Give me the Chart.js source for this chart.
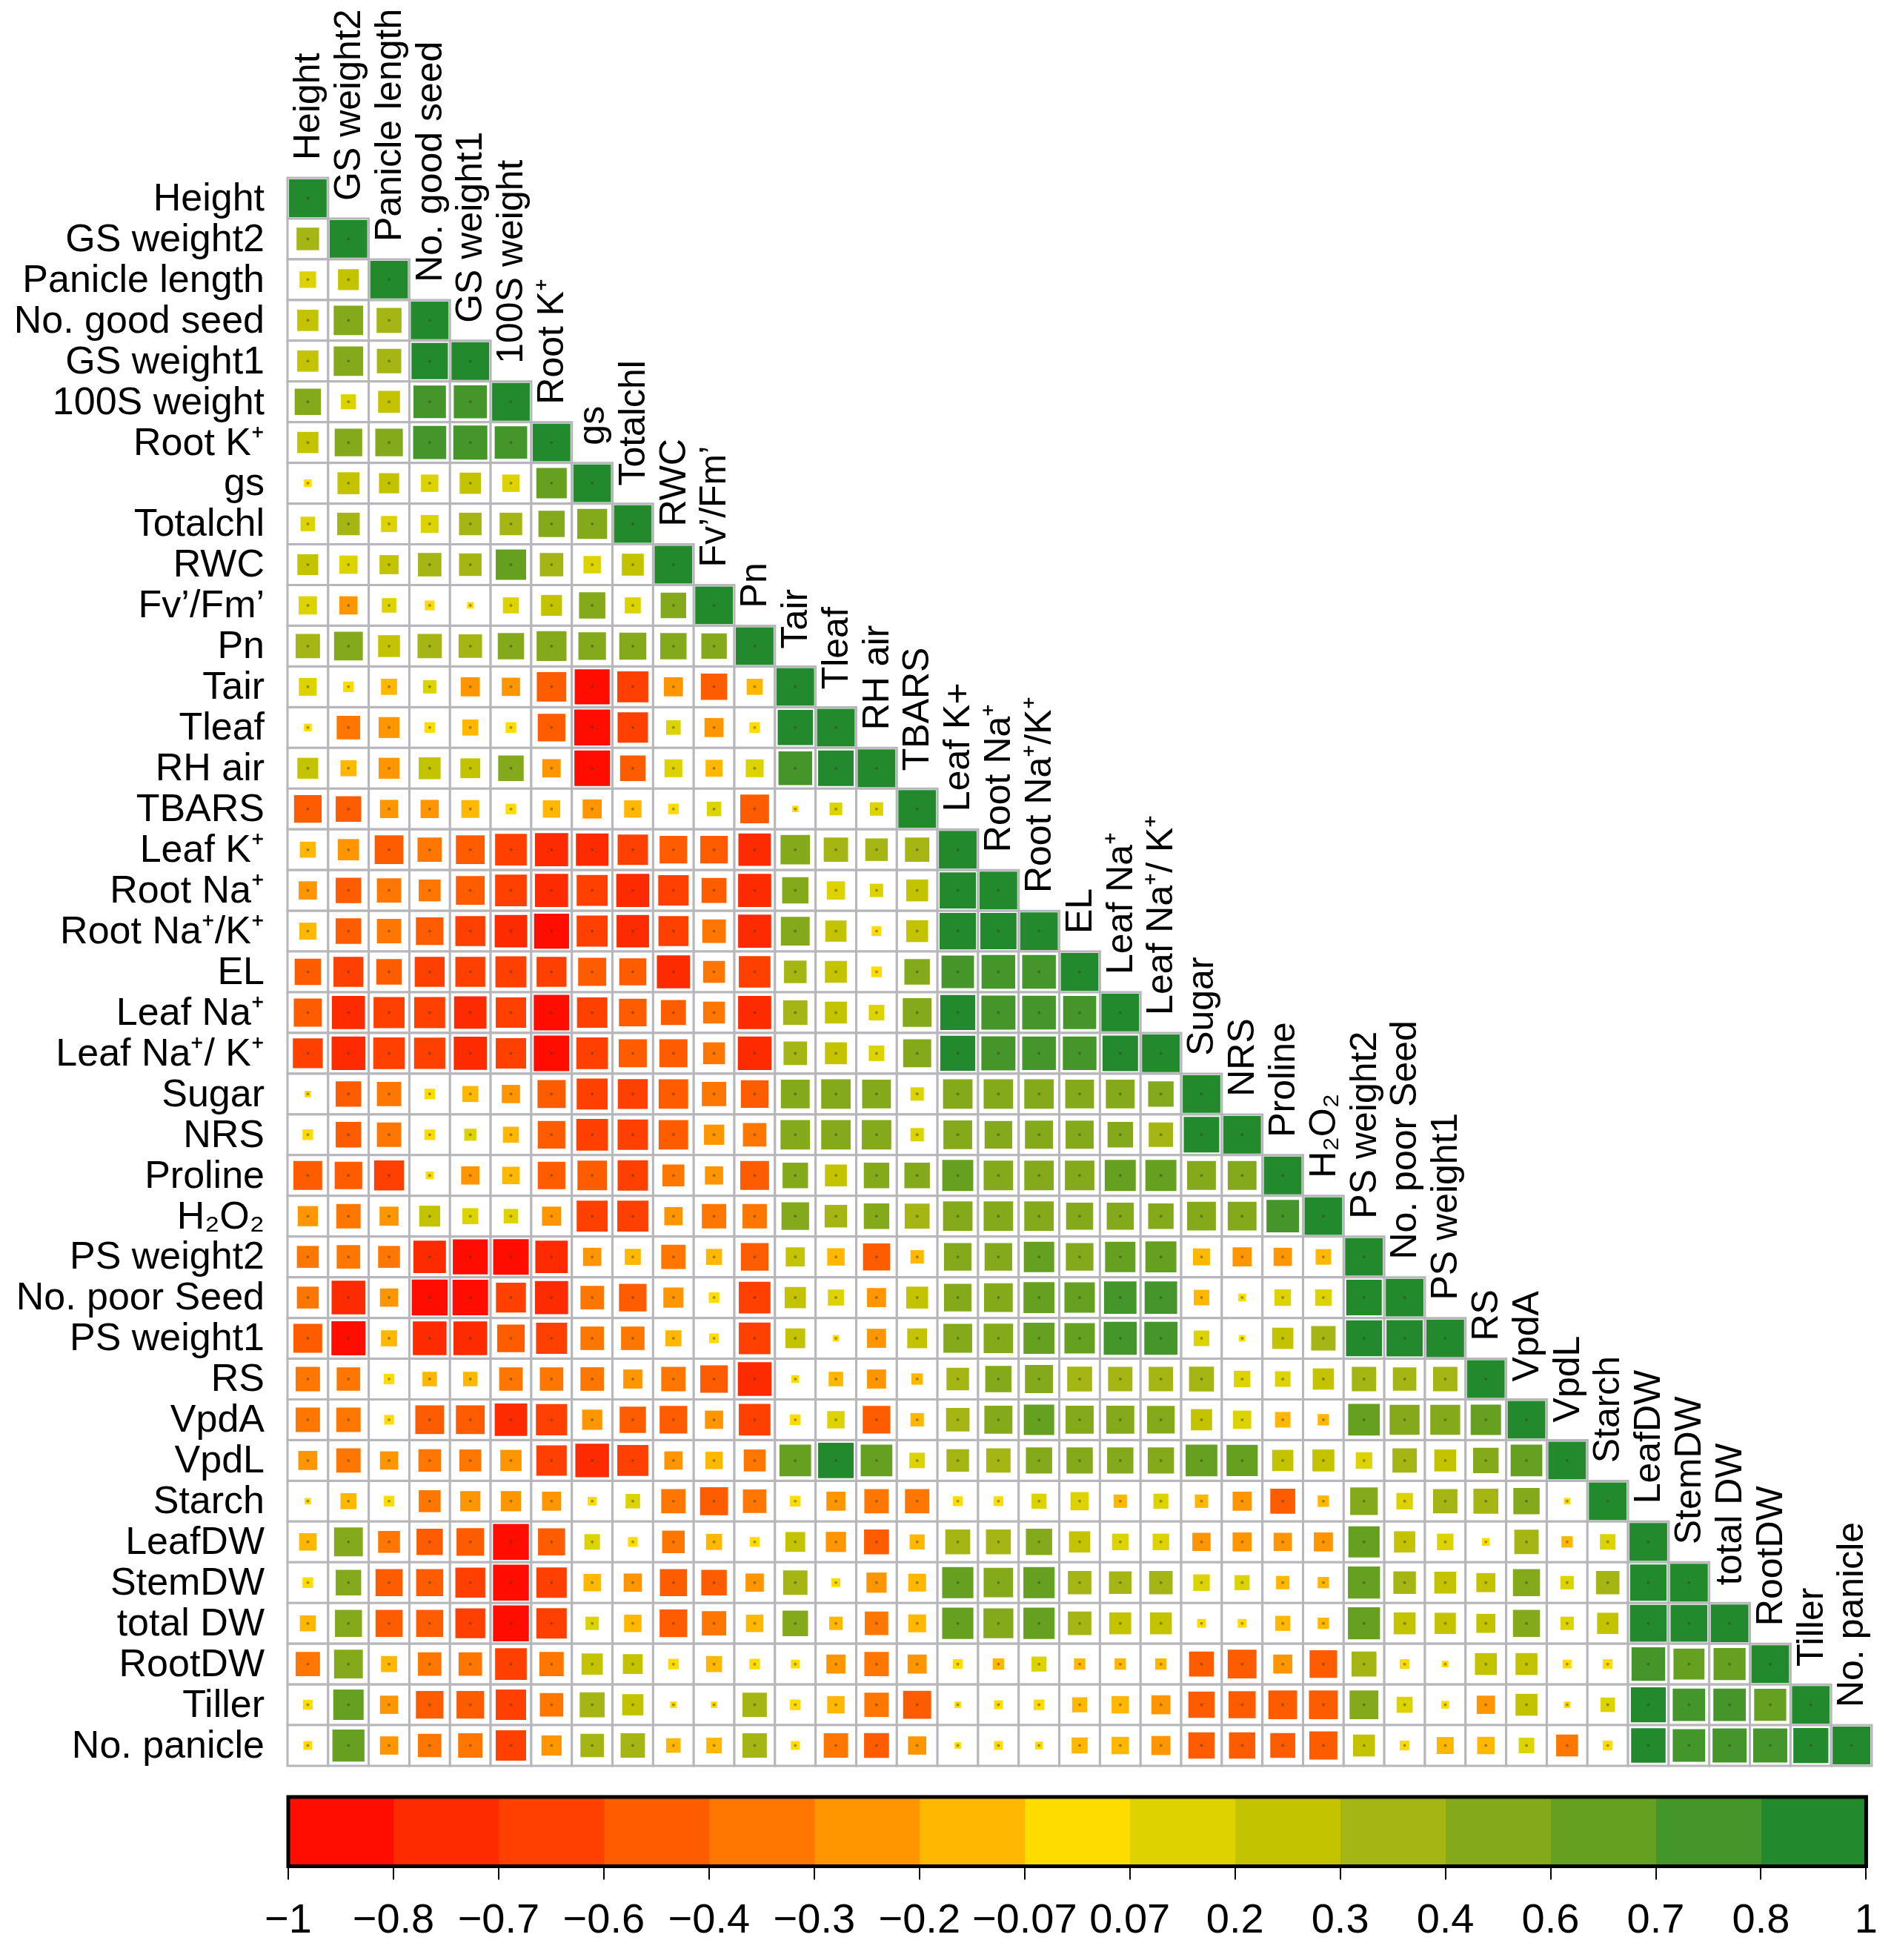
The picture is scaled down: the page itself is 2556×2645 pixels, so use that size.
<!DOCTYPE html>
<html>
<head>
<meta charset="utf-8">
<title>Correlation matrix</title>
<script src="https://cdn.jsdelivr.net/npm/chart.js@4.4.1/dist/chart.umd.min.js"></script>
<style>
  html, body { margin: 0; padding: 0; background: #fff; }
  #matrixBox { position: absolute; left: 0; top: 0; width: 2556px; height: 2400px; }
  #legendBox { position: absolute; left: 0; top: 2400px; width: 2556px; height: 245px; }
</style>
</head>
<body>
<div id="matrixBox"><canvas id="matrix"></canvas></div>
<div id="legendBox"><canvas id="legend"></canvas></div>
<script>
// variable names, as printed left of the rows
const rowNames = [
  'Height', 'GS weight2', 'Panicle length', 'No. good seed', 'GS weight1', '100S weight',
  'Root K\u207A', 'gs', 'Totalchl', 'RWC', 'Fv\u2019/Fm\u2019', 'Pn', 'Tair', 'Tleaf', 'RH air',
  'TBARS', 'Leaf K\u207A', 'Root Na\u207A', 'Root Na\u207A/K\u207A', 'EL', 'Leaf Na\u207A',
  'Leaf Na\u207A/ K\u207A', 'Sugar', 'NRS', 'Proline', 'H\u2082O\u2082', 'PS weight2',
  'No. poor Seed', 'PS weight1', 'RS', 'VpdA', 'VpdL', 'Starch', 'LeafDW', 'StemDW',
  'total DW', 'RootDW', 'Tiller', 'No. panicle'
];

// same variables, as printed above the diagonal
const colNames = [
  'Height', 'GS weight2', 'Panicle length', 'No. good seed', 'GS weight1', '100S weight',
  'Root K\u207A', 'gs', 'Totalchl', 'RWC', 'Fv\u2019/Fm\u2019', 'Pn', 'Tair', 'Tleaf', 'RH air',
  'TBARS', 'Leaf K+', 'Root Na\u207A', 'Root Na\u207A/K\u207A', 'EL', 'Leaf Na\u207A',
  'Leaf Na\u207A/ K\u207A', 'Sugar', 'NRS', 'Proline', 'H\u2082O\u2082', 'PS weight2',
  'No. poor Seed', 'PS weight1', 'RS', 'VpdA', 'VpdL', 'Starch', 'LeafDW', 'StemDW',
  'total DW', 'RootDW', 'Tiller', 'No. panicle'
];

// lower triangle of the correlation matrix: row i holds r(i, 0..i-1), diagonal is 1
const corrLower = [
  [],
  [0.32],
  [0.16, 0.27],
  [0.28, 0.58, 0.4],
  [0.28, 0.58, 0.38, 0.93],
  [0.45, 0.13, 0.3, 0.72, 0.75],
  [0.28, 0.5, 0.5, 0.75, 0.8, 0.72],
  [0.03, 0.3, 0.25, 0.18, 0.28, 0.18, 0.62],
  [0.12, 0.32, 0.15, 0.19, 0.32, 0.32, 0.45, 0.6],
  [0.27, 0.2, 0.22, 0.35, 0.32, 0.62, 0.35, 0.18, 0.3],
  [0.2, -0.2, 0.12, 0.05, 0.02, 0.15, 0.27, 0.45, 0.15, 0.42],
  [0.38, 0.55, 0.3, 0.38, 0.35, 0.45, 0.6, 0.5, 0.48, 0.45, 0.42],
  [0.19, 0.06, -0.15, 0.1, -0.22, -0.2, -0.58, -0.85, -0.65, -0.22, -0.45, -0.15],
  [0.03, -0.35, -0.27, 0.06, -0.15, 0.06, -0.5, -0.9, -0.62, 0.12, -0.22, 0.06, 0.86],
  [0.27, -0.15, -0.27, 0.3, 0.24, 0.42, -0.2, -0.88, -0.42, 0.19, -0.17, 0.19, 0.78, 0.88],
  [-0.5, -0.42, -0.2, -0.2, -0.19, 0.06, -0.18, -0.22, -0.18, 0.06, 0.12, -0.55, 0.02, 0.09, 0.1],
  [-0.15, -0.28, -0.55, -0.38, -0.55, -0.68, -0.75, -0.72, -0.62, -0.5, -0.5, -0.72, 0.58, 0.38, 0.32, 0.38],
  [-0.2, -0.42, -0.38, -0.3, -0.55, -0.68, -0.75, -0.65, -0.75, -0.62, -0.4, -0.75, 0.45, 0.2, 0.1, 0.3, 0.92],
  [-0.17, -0.42, -0.38, -0.5, -0.6, -0.72, -0.85, -0.65, -0.72, -0.6, -0.35, -0.75, 0.55, 0.28, 0.05, 0.3, 0.93, 0.92],
  [-0.45, -0.6, -0.42, -0.6, -0.6, -0.65, -0.6, -0.52, -0.48, -0.75, -0.3, -0.68, 0.32, 0.3, 0.06, 0.42, 0.72, 0.78, 0.78],
  [-0.52, -0.75, -0.65, -0.65, -0.72, -0.62, -0.88, -0.62, -0.5, -0.4, -0.3, -0.75, 0.38, 0.3, 0.14, 0.55, 0.85, 0.8, 0.78, 0.75],
  [-0.6, -0.78, -0.68, -0.66, -0.75, -0.62, -0.88, -0.68, -0.52, -0.52, -0.3, -0.78, 0.35, 0.3, 0.14, 0.52, 0.85, 0.8, 0.78, 0.78, 0.88],
  [0.02, -0.42, -0.38, 0.06, -0.15, -0.2, -0.52, -0.65, -0.6, -0.58, -0.38, -0.5, 0.55, 0.58, 0.55, 0.1, 0.58, 0.58, 0.58, 0.55, 0.55, 0.42],
  [0.06, -0.42, -0.38, 0.06, 0.08, -0.15, -0.5, -0.68, -0.62, -0.58, -0.25, -0.35, 0.58, 0.58, 0.58, 0.1, 0.55, 0.5, 0.52, 0.52, 0.42, 0.38, 0.88],
  [-0.55, -0.5, -0.6, 0.03, -0.2, -0.18, -0.5, -0.58, -0.62, -0.3, -0.2, -0.55, 0.42, 0.3, 0.42, 0.42, 0.65, 0.58, 0.58, 0.58, 0.65, 0.65, 0.55, 0.55],
  [-0.25, -0.38, -0.22, 0.27, 0.15, 0.12, -0.22, -0.65, -0.65, -0.2, -0.38, -0.38, 0.5, 0.32, 0.42, 0.4, 0.58, 0.58, 0.58, 0.48, 0.48, 0.42, 0.55, 0.55, 0.72],
  [-0.3, -0.35, -0.3, -0.72, -0.85, -0.88, -0.72, -0.2, -0.15, -0.38, -0.15, -0.5, 0.22,
   -0.18, -0.48, -0.1, 0.5, 0.5, 0.62, 0.5, 0.62, 0.65, -0.17, -0.22, -0.2, -0.14],
  [-0.3, -0.78, -0.2, -0.9, -0.88, -0.6, -0.75, -0.35, -0.5, -0.25, 0.06, -0.68, 0.28,
   0.15, -0.22, 0.3, 0.5, 0.55, 0.65, 0.62, 0.72, 0.72, -0.14, 0.03, 0.16, 0.16,
   0.88],
  [-0.55, -0.8, -0.15, -0.78, -0.78, -0.5, -0.65, -0.35, -0.35, -0.15, 0.05, -0.68, 0.24,
   0.02, -0.22, 0.24, 0.55, 0.58, 0.65, 0.62, 0.75, 0.75, 0.14, 0.02, 0.28, 0.38,
   0.9, 0.92],
  [-0.38, -0.35, 0.06, -0.12, -0.12, -0.35, -0.35, -0.35, -0.22, -0.38, -0.5, -0.78, 0.03,
   -0.12, -0.22, -0.07, 0.32, 0.45, 0.52, 0.4, 0.38, 0.38, 0.4, 0.16, 0.14, 0.28,
   0.38, 0.35, 0.38],
  [-0.38, -0.38, 0.05, -0.55, -0.55, -0.72, -0.66, -0.25, -0.45, -0.5, -0.2, -0.68, 0.06,
   0.18, -0.5, -0.1, 0.35, 0.52, 0.62, 0.52, 0.52, 0.5, 0.28, 0.2, -0.14, -0.07,
   0.68, 0.6, 0.6, 0.62],
  [-0.22, -0.38, -0.2, -0.32, -0.3, -0.28, -0.62, -0.78, -0.65, -0.2, -0.18, -0.3, 0.68,
   0.88, 0.68, 0.14, 0.32, 0.38, 0.45, 0.45, 0.45, 0.45, 0.68, 0.66, 0.28, 0.3,
   0.16, 0.38, 0.3, 0.42, 0.68],
  [0.02, -0.15, 0.06, -0.3, -0.25, -0.25, -0.22, 0.04, 0.12, -0.38, -0.52, -0.35, 0.06,
   -0.22, -0.38, -0.38, -0.05, -0.05, 0.13, 0.2, -0.1, 0.13, -0.1, -0.22, -0.4, -0.07,
   0.5, 0.16, 0.38, 0.4, 0.45, 0.02],
  [-0.18, 0.55, -0.3, -0.45, -0.5, -0.9, -0.48, 0.14, 0.05, -0.32, -0.15, 0.05, 0.24,
   -0.25, -0.4, -0.13, 0.4, 0.4, 0.45, 0.28, 0.16, 0.16, -0.2, -0.22, -0.2, -0.22,
   0.66, 0.28, 0.16, 0.03, 0.38, -0.07, 0.14],
  [0.06, 0.42, -0.48, -0.48, -0.6, -0.9, -0.62, -0.18, -0.2, -0.48, -0.42, -0.2, 0.38,
   -0.04, -0.25, -0.19, 0.66, 0.58, 0.66, 0.35, 0.32, 0.35, 0.16, 0.13, -0.1, -0.07,
   0.7, 0.32, 0.3, 0.22, 0.48, 0.1, 0.35, 0.93],
  [-0.15, 0.48, -0.48, -0.48, -0.6, -0.9, -0.62, 0.1, -0.18, -0.5, -0.38, -0.18, 0.42,
   -0.1, -0.35, -0.19, 0.66, 0.6, 0.66, 0.35, 0.3, 0.3, -0.04, -0.04, -0.13, -0.07,
   0.7, 0.3, 0.28, 0.22, 0.48, 0.1, 0.28, 0.95, 0.95],
  [-0.38, 0.55, -0.15, -0.35, -0.35, -0.68, -0.38, 0.28, 0.24, 0.06, -0.15, 0.06, -0.04,
   -0.22, -0.38, -0.22, -0.05, -0.07, 0.13, -0.07, -0.07, -0.07, -0.4, -0.55, -0.22, -0.5,
   0.4, 0.05, 0.02, 0.3, 0.3, -0.04, -0.05, 0.78, 0.65, 0.7],
  [0.05, 0.62, -0.2, -0.5, -0.5, -0.62, -0.35, 0.4, 0.28, 0.02, 0.02, 0.38, 0.06,
   -0.18, -0.38, -0.52, 0.02, -0.04, -0.06, -0.13, -0.18, -0.22, -0.45, -0.48, -0.55, -0.55,
   0.55, 0.15, 0.03, -0.2, 0.3, 0.02, 0.12, 0.85, 0.72, 0.72, 0.7],
  [0.04, 0.7, -0.2, -0.35, -0.38, -0.62, -0.25, 0.35, 0.38, -0.12, -0.14, 0.38, 0.04,
   -0.38, -0.4, -0.2, 0.02, -0.04, -0.03, -0.15, -0.18, -0.22, -0.45, -0.45, -0.4, -0.52,
   0.3, 0.05, -0.17, -0.18, 0.14, -0.3, 0.05, 0.82, 0.72, 0.8, 0.8, 0.85]
];

// colour key: break values and the labels printed under them
const colorBreaks = [-1, -0.8, -0.7, -0.6, -0.4, -0.3, -0.2, -0.07, 0.07, 0.2, 0.3, 0.4, 0.6, 0.7, 0.8, 1];
const breakLabels = ['\u22121', '\u22120.8', '\u22120.7', '\u22120.6', '\u22120.4', '\u22120.3', '\u22120.2',
  '\u22120.07', '0.07', '0.2', '0.3', '0.4', '0.6', '0.7', '0.8', '1'];

const binColors = ['#ff0d00', '#ff2b00', '#ff4000', '#ff5c00', '#ff7700', '#ff9600', '#ffb700',
  '#ffdc00', '#dcd300', '#c3c300', '#a5b614', '#84aa1c', '#65a020', '#44952a', '#22892c'];

const FONT = '"Liberation Sans", Arial, Helvetica, sans-serif';
Chart.defaults.font.family = FONT;

function colorFor(r) {
  for (let k = 1; k < colorBreaks.length; k++) {
    if (r <= colorBreaks[k]) return binColors[k - 1];
  }
  return binColors[binColors.length - 1];
}

var N = rowNames.length;
var cellPoints = [];
var markPoints = [];
for (var i = 0; i < N; i++) {
  for (var j = 0; j <= i; j++) {
    var r = (i === j) ? 1 : corrLower[i][j];
    cellPoints.push({ x: j, y: i });
    markPoints.push({ x: j, y: i, r: r });
  }
}

function cellSize(chart) {
  var area = chart.chartArea;
  if (!area) return 0;
  return (area.right - area.left) / N;
}

// row names on the left, column names standing on the diagonal
const labelPlugin = {
  id: 'corrLabels',
  afterDraw: function (chart) {
    var ctx = chart.ctx;
    var xs = chart.scales.x;
    var ys = chart.scales.y;
    ctx.save();
    ctx.fillStyle = '#000';
    ctx.font = '52px ' + FONT;
    ctx.textAlign = 'right';
    ctx.textBaseline = 'middle';
    rowNames.forEach(function (name, i) {
      ctx.fillText(name, xs.getPixelForValue(-0.5) - 31, ys.getPixelForValue(i) + 2);
    });
    ctx.font = '50px ' + FONT;
    ctx.textAlign = 'left';
    colNames.forEach(function (name, j) {
      ctx.save();
      ctx.translate(xs.getPixelForValue(j) + 2, ys.getPixelForValue(j - 0.5) - 24);
      ctx.rotate(-Math.PI / 2);
      ctx.fillText(name, 0, 0);
      ctx.restore();
    });
    ctx.restore();
  }
};

new Chart(document.getElementById('matrix'), {
  type: 'scatter',
  data: {
    datasets: [
      {
        // tiny mark in the middle of each square
        data: markPoints,
        pointStyle: 'circle',
        pointRadius: 2,
        backgroundColor: 'rgba(60,60,30,0.45)',
        borderWidth: 0,
        clip: false,
        order: 0
      },
      {
        data: markPoints,
        pointStyle: 'rect',
        pointRadius: function (c) {
          var side = (cellSize(c.chart) - 4) * Math.pow(Math.abs(c.raw.r), 0.45);
          return side / Math.SQRT2;
        },
        backgroundColor: function (c) { return colorFor(c.raw.r); },
        borderWidth: 0,
        clip: false,
        order: 1
      },
      {
        data: cellPoints,
        pointStyle: 'rect',
        pointRadius: function (c) { return cellSize(c.chart) / Math.SQRT2; },
        backgroundColor: '#ffffff',
        borderColor: '#b7b7bb',
        borderWidth: 3,
        clip: false,
        order: 2
      }
    ]
  },
  options: {
    responsive: true,
    maintainAspectRatio: false,
    animation: false,
    events: [],
    layout: { padding: { left: 388, top: 240, right: 30, bottom: 17 } },
    plugins: { legend: { display: false }, tooltip: { enabled: false } },
    scales: {
      x: { type: 'linear', min: -0.5, max: N - 0.5, display: false },
      y: { type: 'linear', min: -0.5, max: N - 0.5, reverse: true, display: false }
    }
  },
  plugins: [labelPlugin]
});

// black frame round the colour key
const framePlugin = {
  id: 'keyFrame',
  afterDatasetsDraw: function (chart) {
    var a = chart.chartArea;
    var ctx = chart.ctx;
    ctx.save();
    ctx.strokeStyle = '#000';
    ctx.lineWidth = 5;
    ctx.strokeRect(a.left, a.top, a.right - a.left, a.bottom - a.top);
    ctx.restore();
  }
};

new Chart(document.getElementById('legend'), {
  type: 'bar',
  data: {
    labels: [''],
    datasets: binColors.map(function (c) {
      return { data: [1], backgroundColor: c, borderWidth: 0, barPercentage: 1, categoryPercentage: 1 };
    })
  },
  options: {
    indexAxis: 'y',
    responsive: true,
    maintainAspectRatio: false,
    animation: false,
    events: [],
    layout: { padding: { left: 389, right: 28, top: 25, bottom: 33 } },
    plugins: { legend: { display: false }, tooltip: { enabled: false } },
    scales: {
      x: {
        stacked: true,
        min: 0,
        max: colorBreaks.length - 1,
        ticks: {
          stepSize: 1,
          autoSkip: false,
          maxRotation: 0,
          padding: 22,
          color: '#000',
          font: { size: 56 },
          callback: function (v) { return breakLabels[v]; }
        },
        grid: { drawOnChartArea: false, drawTicks: true, tickLength: 18, color: '#000', lineWidth: 2 },
        border: { display: false }
      },
      y: { stacked: true, display: false }
    }
  },
  plugins: [framePlugin]
});
</script>
</body>
</html>
